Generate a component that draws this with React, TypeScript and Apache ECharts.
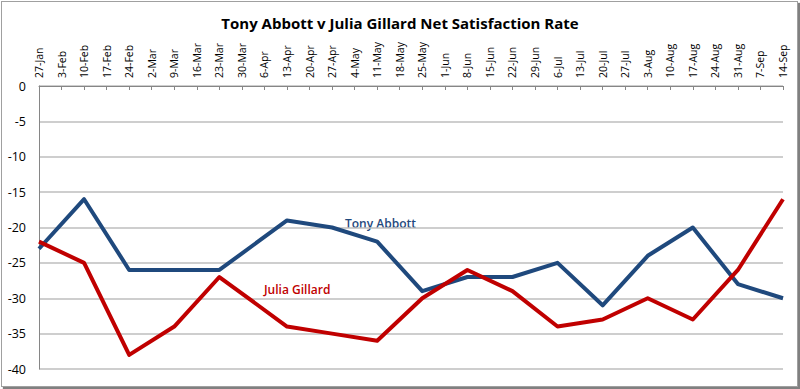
import React, { useEffect, useRef } from "react";
import * as echarts from "echarts";

const categories = [
  "27-Jan", "3-Feb", "10-Feb", "17-Feb", "24-Feb", "2-Mar", "9-Mar", "16-Mar", "23-Mar", "30-Mar",
  "6-Apr", "13-Apr", "20-Apr", "27-Apr", "4-May", "11-May", "18-May", "25-May", "1-Jun", "8-Jun",
  "15-Jun", "22-Jun", "29-Jun", "6-Jul", "13-Jul", "20-Jul", "27-Jul", "3-Aug", "10-Aug", "17-Aug",
  "24-Aug", "31-Aug", "7-Sep", "14-Sep",
];

const abbott: (number | null)[] = [
  -23, null, -16, null, -26, null, -26, null, -26, null,
  null, -19, null, -20, null, -22, null, -29, null, -27,
  null, -27, null, -25, null, -31, null, -24, null, -20,
  null, -28, null, -30,
];

const gillard: (number | null)[] = [
  -22, null, -25, null, -38, null, -34, null, -27, null,
  null, -34, null, -35, null, -36, null, -30, null, -26,
  null, -29, null, -34, null, -33, null, -30, null, -33,
  null, -26, null, -16,
];

const seriesNames = ["Tony Abbott", "Julia Gillard"];
const yTicks = { min: -40, max: 0, interval: 5 };

export default function App() {
  const ref = useRef<HTMLDivElement>(null);
  useEffect(() => {
    if (!ref.current) return;
    const chart = echarts.init(ref.current, null, { renderer: "svg" });
    const font = "Open Sans, Noto Sans, sans-serif";
    chart.setOption({
      animation: false,
      backgroundColor: "#ffffff",
      title: {
        text: "Tony Abbott v Julia Gillard Net Satisfaction Rate",
        left: "center",
        top: 10,
        textStyle: { fontFamily: font, fontSize: 15, fontWeight: "bold", color: "#000" },
      },
      grid: { left: 39, right: 17, top: 86, bottom: 20 },
      xAxis: {
        type: "category",
        position: "top",
        boundaryGap: false,
        data: categories,
        axisLine: { show: true, lineStyle: { color: "#868686", width: 1 } },
        axisTick: { show: true, inside: true, length: 4, lineStyle: { color: "#868686" } },
        axisLabel: {
          interval: 0,
          rotate: 90,
          margin: 8,
          fontFamily: font,
          fontSize: 10.5,
          color: "#000",
        },
        splitLine: { show: false },
      },
      yAxis: {
        type: "value",
        min: yTicks.min,
        max: yTicks.max,
        interval: yTicks.interval,
        axisLine: { show: true, lineStyle: { color: "#868686" } },
        axisTick: { show: false },
        axisLabel: { margin: 13, fontFamily: font, fontSize: 12.5, color: "#000" },
        splitLine: { show: true, lineStyle: { color: "#BEBEBE", width: 1.5 } },
      },
      series: [
        {
          name: seriesNames[0],
          type: "line",
          data: abbott,
          connectNulls: true,
          showSymbol: false,
          symbol: "none",
          lineStyle: { color: "#1F497D", width: 4, join: "round" },
          itemStyle: { color: "#1F497D" },
        },
        {
          name: seriesNames[1],
          type: "line",
          data: gillard,
          connectNulls: true,
          showSymbol: false,
          symbol: "none",
          lineStyle: { color: "#C00000", width: 4, join: "round" },
          itemStyle: { color: "#C00000" },
        },
      ],
      graphic: [
        {
          type: "text",
          left: 345,
          top: 217,
          style: { text: seriesNames[0], fill: "#1F497D", font: `600 12px ${font}` },
        },
        {
          type: "text",
          left: 264,
          top: 283,
          style: { text: seriesNames[1], fill: "#C00000", font: `600 12px ${font}` },
        },
      ],
    });
    return () => chart.dispose();
  }, []);
  return (
    <div
      style={{
        position: "absolute",
        left: 0,
        top: 0,
        width: 800,
        height: 389,
        background: "#fff",
      }}
    >
      <div
        ref={ref}
        style={{
          position: "absolute",
          left: 0,
          top: 0,
          width: 800,
          height: 389,
        }}
      />
      <div
        style={{
          position: "absolute",
          left: 1,
          top: 1,
          width: 795,
          height: 384,
          border: "1px solid #A0A0A0",
          boxShadow: "2px 2px 1px #808080",
          pointerEvents: "none",
        }}
      />
    </div>
  );
}
